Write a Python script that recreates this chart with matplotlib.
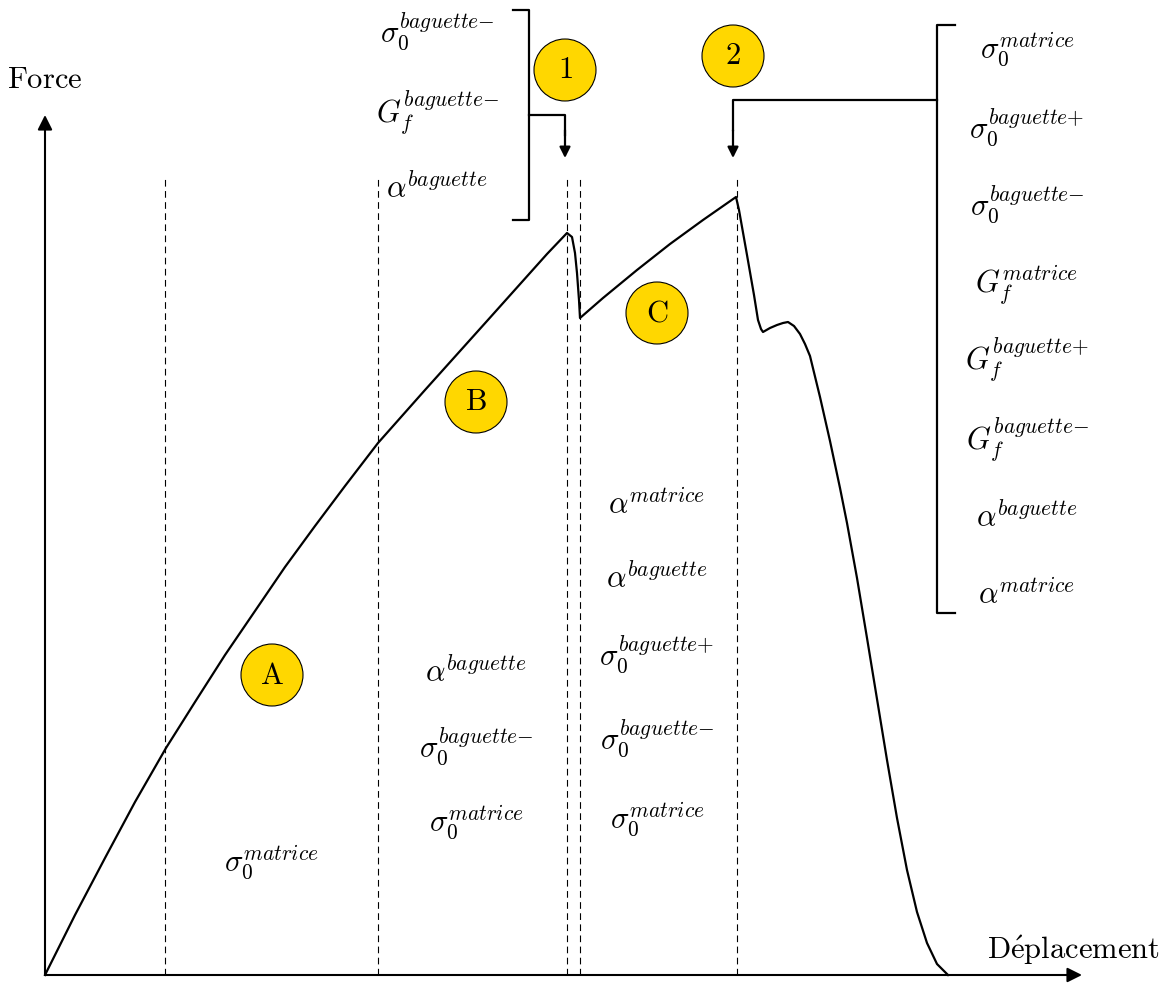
import matplotlib
matplotlib.use('Agg')
import matplotlib.pyplot as plt
from matplotlib.patches import Circle

plt.rcParams['mathtext.fontset'] = 'cm'
plt.rcParams['font.family'] = 'DejaVu Serif'

# force / displacement curve (arbitrary units)
depl = [0, 30, 60, 90, 121, 150, 180, 210, 240, 270,
        300, 333, 380, 442, 502, 522, 527, 530, 532, 534,
        535, 558, 592, 625, 658, 691, 694, 702, 709, 713,
        716, 718, 725, 732, 738, 743, 749, 755, 760, 765,
        775, 785, 795, 802, 812, 822, 832, 842, 852, 862,
        872, 882, 892, 903]
force = [0, 60, 117, 173, 227, 273, 320, 364, 408, 449,
         489, 532, 585, 654, 721, 742, 738, 722, 702, 675,
         657, 677, 705, 731, 755, 778, 765, 720, 680, 655,
         646, 643, 647, 650, 652, 653, 649, 641, 631, 619,
         578, 534, 487, 452, 397, 337, 276, 215, 157, 105,
         63, 32, 11, 0]

# stage limits (dashed lines)
stages = [120, 333, 522, 535, 692]

fs = 22
yellow = '#FFD700'

fig = plt.figure(figsize=(11.67, 9.84), dpi=100)
ax = fig.add_axes([0, 0, 1, 1])
ax.set_xlim(-45, 1122)
ax.set_ylim(-9, 975)
ax.axis('off')

# axes arrows
ax.annotate('', xy=(1037, 0), xytext=(0, 0),
            arrowprops=dict(arrowstyle='-|>', lw=1.5, color='k', mutation_scale=22, shrinkA=0, shrinkB=0))
ax.annotate('', xy=(0, 860), xytext=(0, 0),
            arrowprops=dict(arrowstyle='-|>', lw=1.5, color='k', mutation_scale=22, shrinkA=0, shrinkB=0))
ax.text(0, 895, r'$\mathrm{Force}$', fontsize=fs, ha='center', va='center')
ax.text(1028, 25, r'$\mathrm{D\acute{e}placement}$', fontsize=fs, ha='center', va='center')

for s in stages:
    ax.plot([s, s], [0, 800], color='k', lw=0.8, ls=(0, (6, 4)))

ax.plot(depl, force, color='k', lw=1.6, solid_joinstyle='round')

# circled labels
circles = [('A', 227, 300), ('B', 431, 573), ('C', 612, 662), ('1', 520, 905), ('2', 688, 919)]
for lab, cx, cy in circles:
    ax.add_patch(Circle((cx, cy), 31, facecolor=yellow, edgecolor='k', lw=0.8, zorder=3))
    ax.text(cx, cy, r'$\mathrm{%s}$' % lab, fontsize=fs, ha='center', va='center', zorder=4)

s0m = r'$\sigma_0^{matrice}$'
s0bm = r'$\sigma_0^{baguette{-}}$'
s0bp = r'$\sigma_0^{baguette{+}}$'
gfm = r'$G_f^{matrice}$'
gfbp = r'$G_f^{baguette{+}}$'
gfbm = r'$G_f^{baguette{-}}$'
ab = r'$\alpha^{baguette}$'
am = r'$\alpha^{matrice}$'

def txt(x, y, s):
    ax.text(x, y, s, fontsize=fs, ha='center', va='center')

# stage A
txt(226, 112, s0m)
# stage B
txt(431, 302, ab)
txt(431, 228, s0bm)
txt(431, 152, s0m)
# stage C
txt(612, 469, am)
txt(612, 396, ab)
txt(612, 320, s0bp)
txt(612, 236, s0bm)
txt(612, 155, s0m)

# group 1 (top left bracket)
txt(392, 943, s0bm)
txt(392, 862, gfbm)
txt(392, 786, ab)
ax.plot([468, 484, 484, 468], [965, 965, 755, 755], color='k', lw=1.6)
ax.plot([484, 520, 520], [860, 860, 840], color='k', lw=1.6)
ax.annotate('', xy=(520, 817), xytext=(520, 845),
            arrowprops=dict(arrowstyle='-|>', lw=1.6, color='k', mutation_scale=16, shrinkA=0, shrinkB=0))

# group 2 (right bracket)
right = [s0m, s0bp, s0bm, gfm, gfbp, gfbm, ab, am]
ry = [925, 847, 770, 690, 615, 535, 457, 379]
for s, y in zip(right, ry):
    txt(982, y, s)
ax.plot([910, 892, 892, 910], [950, 950, 362, 362], color='k', lw=1.6)
ax.plot([892, 688, 688], [875, 875, 845], color='k', lw=1.6)
ax.annotate('', xy=(688, 817), xytext=(688, 845),
            arrowprops=dict(arrowstyle='-|>', lw=1.6, color='k', mutation_scale=16, shrinkA=0, shrinkB=0))

fig.savefig('out.png', dpi=100)
